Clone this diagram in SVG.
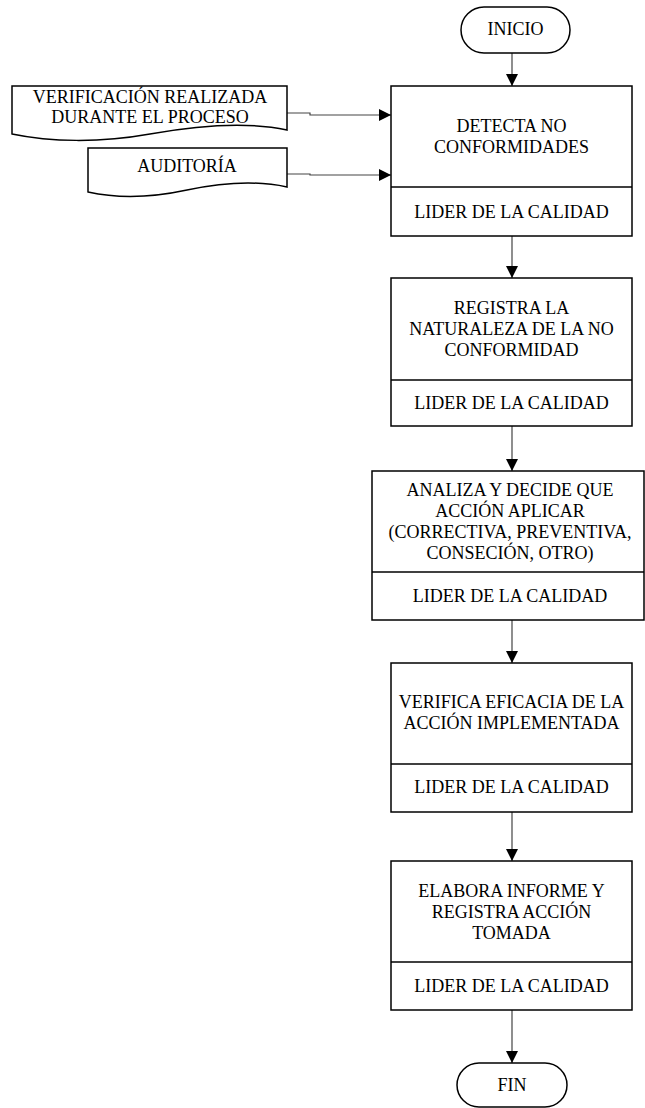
<svg xmlns="http://www.w3.org/2000/svg" width="645" height="1108" viewBox="0 0 645 1108">
<defs>
<style>
.box{fill:#fff;stroke:#000;stroke-width:1.5}
.t{font-family:"Liberation Serif","Times New Roman",serif;font-size:18px;fill:#000;text-anchor:middle}
.c{fill:none;stroke:#444;stroke-width:1.2}
</style>
<marker id="ah" viewBox="0 0 12 12" refX="12" refY="6" markerWidth="12" markerHeight="12" markerUnits="userSpaceOnUse" orient="auto">
<path d="M0,0 L12,6 L0,12 Z" fill="#000"/>
</marker>
</defs>
<rect width="645" height="1108" fill="#fff"/>

<g id="connectors">
<line class="c" x1="512" y1="53" x2="512" y2="86" marker-end="url(#ah)"/>
<polyline class="c" points="287,113 310,113 310,115 391,115" marker-end="url(#ah)"/>
<polyline class="c" points="287,174 310,174 310,175 391,175" marker-end="url(#ah)"/>
<line class="c" x1="512" y1="236" x2="512" y2="278" marker-end="url(#ah)"/>
<line class="c" x1="512" y1="426" x2="512" y2="471" marker-end="url(#ah)"/>
<line class="c" x1="512" y1="620" x2="512" y2="663" marker-end="url(#ah)"/>
<line class="c" x1="512" y1="812" x2="512" y2="861" marker-end="url(#ah)"/>
<line class="c" x1="512" y1="1010" x2="512" y2="1063" marker-end="url(#ah)"/>
</g>

<g id="inicio">
<rect class="box" x="461" y="7" width="109" height="46" rx="23" ry="23"/>
<text class="t" x="515.5" y="35">INICIO</text>
</g>

<g id="doc-verificacion">
<path class="box" d="M12,86 H287 V130 C250,122 200,125 150,134 C100,143 50,142 12,134 Z"/>
<text class="t" x="150" y="103">VERIFICACIÓN REALIZADA</text>
<text class="t" x="150" y="123">DURANTE EL PROCESO</text>
</g>

<g id="doc-auditoria">
<path class="box" d="M88,148 H287 V187 C260,181 225,182 187,190 C150,198 115,198 88,192 Z"/>
<text class="t" x="187" y="172">AUDITORÍA</text>
</g>

<g id="detecta">
<rect class="box" x="391" y="86" width="241" height="150"/>
<line class="box" x1="391" y1="187" x2="632" y2="187"/>
<text class="t" x="511.5" y="132">DETECTA NO</text>
<text class="t" x="511.5" y="153">CONFORMIDADES</text>
<text class="t" x="511.5" y="218">LIDER DE LA CALIDAD</text>
</g>

<g id="registra">
<rect class="box" x="391" y="278" width="241" height="148"/>
<line class="box" x1="391" y1="380" x2="632" y2="380"/>
<text class="t" x="511.5" y="314">REGISTRA LA</text>
<text class="t" x="511.5" y="335">NATURALEZA DE LA NO</text>
<text class="t" x="511.5" y="356">CONFORMIDAD</text>
<text class="t" x="511.5" y="409">LIDER DE LA CALIDAD</text>
</g>

<g id="analiza">
<rect class="box" x="372" y="471" width="272" height="149"/>
<line class="box" x1="372" y1="572" x2="644" y2="572"/>
<text class="t" x="510" y="496">ANALIZA Y DECIDE QUE</text>
<text class="t" x="510" y="517">ACCIÓN APLICAR</text>
<text class="t" x="510" y="538">(CORRECTIVA, PREVENTIVA,</text>
<text class="t" x="510" y="559">CONSECIÓN, OTRO)</text>
<text class="t" x="510" y="602">LIDER DE LA CALIDAD</text>
</g>

<g id="verifica">
<rect class="box" x="391" y="663" width="241" height="149"/>
<line class="box" x1="391" y1="764" x2="632" y2="764"/>
<text class="t" x="511.5" y="708">VERIFICA EFICACIA DE LA</text>
<text class="t" x="511.5" y="729">ACCIÓN IMPLEMENTADA</text>
<text class="t" x="511.5" y="793">LIDER DE LA CALIDAD</text>
</g>

<g id="elabora">
<rect class="box" x="391" y="861" width="241" height="149"/>
<line class="box" x1="391" y1="962" x2="632" y2="962"/>
<text class="t" x="511.5" y="897">ELABORA INFORME Y</text>
<text class="t" x="511.5" y="918">REGISTRA ACCIÓN</text>
<text class="t" x="511.5" y="939">TOMADA</text>
<text class="t" x="511.5" y="992">LIDER DE LA CALIDAD</text>
</g>

<g id="fin">
<rect class="box" x="457" y="1063" width="110" height="44" rx="22" ry="22"/>
<text class="t" x="512" y="1091">FIN</text>
</g>
</svg>
